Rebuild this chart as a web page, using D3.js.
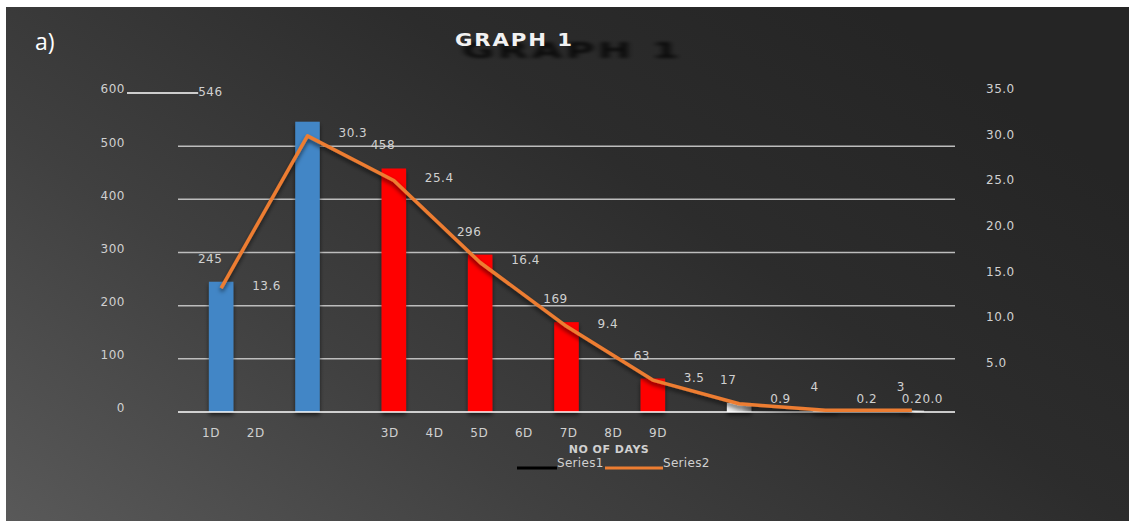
<!DOCTYPE html>
<html>
<head>
<meta charset="utf-8">
<script src="https://cdn.jsdelivr.net/npm/d3@7"></script>
<style>
  html, body { margin: 0; padding: 0; background: #fff; }
  svg { display: block; }
  text { font-family: "DejaVu Sans", Verdana, sans-serif; }
</style>
</head>
<body>
<svg id="chart" width="1129" height="521"></svg>
<script>
// ---- data ----
const categories = ["c1","c2","c3","c4","c5","c6","c7","c8","c9"];
const xLabels = ["1D","2D","3D","4D","5D","6D","7D","8D","9D"];
const xLabelSlots = ["1D","2D","gap1","gap2","3D","4D","5D","6D","7D","8D","9D"];
const barValues = [245, 546, 458, 296, 169, 63, 17, 4, 3];
const lineValues = [13.6, 30.3, 25.4, 16.4, 9.4, 3.5, 0.9, 0.2, 0.2];
const lineTailValues = [0.0];
const leftTicks = [0, 100, 200, 300, 400, 500, 600];
const rightTicks = [5, 10, 15, 20, 25, 30, 35];
const seriesNames = ["Series1", "Series2"];
const titleText = "GRAPH 1";
const panelLabel = "a)";
const xAxisTitle = "NO OF DAYS";

// ---- styles ----
const barColors = ["blue","blue","red","red","red","red","gray","gray","gray"];
const W = 1129, H = 521;
const plot = { left: 178, right: 955, top: 93, bottom: 412 };
const labelColor = "#d0d0d0";

const svg = d3.select("#chart");
const defs = svg.append("defs");

const bg = defs.append("linearGradient").attr("id","bg")
  .attr("x1","0").attr("y1","1").attr("x2","1").attr("y2","0.35");
bg.append("stop").attr("offset","0").attr("stop-color","#595959");
bg.append("stop").attr("offset","0.35").attr("stop-color","#404040");
bg.append("stop").attr("offset","0.7").attr("stop-color","#2c2c2c");
bg.append("stop").attr("offset","1").attr("stop-color","#252525");

const grayGrad = defs.append("linearGradient").attr("id","grayBar")
  .attr("x1","0").attr("y1","0").attr("x2","1").attr("y2","0");
grayGrad.append("stop").attr("offset","0").attr("stop-color","#f4f4f4");
grayGrad.append("stop").attr("offset","0.6").attr("stop-color","#d0d0d0");
grayGrad.append("stop").attr("offset","1").attr("stop-color","#8a8a8a");

const sh = defs.append("filter").attr("id","shadow")
  .attr("x","-30%").attr("y","-30%").attr("width","160%").attr("height","160%");
sh.append("feDropShadow").attr("dx",0).attr("dy",3).attr("stdDeviation",2)
  .attr("flood-color","#000").attr("flood-opacity",0.6);

// dark blurred silhouette for the title's perspective shadow
const tsh = defs.append("filter").attr("id","titleShadow")
  .attr("x","-20%").attr("y","-60%").attr("width","140%").attr("height","220%");
tsh.append("feGaussianBlur").attr("in","SourceAlpha").attr("stdDeviation",1.3).attr("result","b");
tsh.append("feComponentTransfer").attr("in","b")
  .append("feFuncA").attr("type","linear").attr("slope",0.75);

svg.append("rect").attr("x",0).attr("y",0).attr("width",W).attr("height",H).attr("fill","#fff");
svg.append("rect").attr("x",6).attr("y",7).attr("width",W-6).attr("height",H-7).attr("fill","url(#bg)");

// ---- scales ----
const x = d3.scaleBand().domain(categories).range([plot.left, plot.right]).padding(0);
const barW = x.bandwidth() * 0.284;
const cx = i => x(categories[i]) + x.bandwidth() / 2;
const yL = d3.scaleLinear().domain([0, 600]).range([plot.bottom, plot.top]);
const yR = d3.scaleLinear().domain([0, 35]).range([plot.bottom, plot.top]);
const xLab = d3.scalePoint().domain(xLabelSlots).range([211, 658]);

// ---- title ----
svg.append("text").text(panelLabel)
  .attr("x", 35).attr("y", 50)
  .attr("fill", "#ffffff")
  .style("font-family", "'Open Sans', sans-serif")
  .attr("font-size", 23);

// shadow (re-uses the title glyphs, stretched)
svg.append("use").attr("href", "#titleText")
  .attr("transform", "translate(462,58) scale(2.32,1.25)")
  .attr("filter", "url(#titleShadow)");

svg.append("g").attr("transform", "translate(455,46) scale(1.25,1)")
  .append("text").attr("id", "titleText").text(titleText)
  .attr("x", 0).attr("y", 0)
  .attr("font-size", 17).attr("font-weight", "bold")
  .attr("letter-spacing", 1.5)
  .attr("fill", "#f2f2f2");

// ---- gridlines ----
const gridTicks = leftTicks.filter(t => t > 0 && t < 600);
svg.append("g").selectAll("line").data(gridTicks).join("line")
  .attr("x1", plot.left).attr("x2", plot.right)
  .attr("y1", d => yL(d)).attr("y2", d => yL(d))
  .attr("stroke", "#bdbdbd").attr("stroke-width", 1.5);

// ---- left axis labels ----
const leftAxis = d3.axisLeft(yL).tickValues(leftTicks).tickSize(0).tickPadding(0);
const gL = svg.append("g").attr("transform", "translate(125,0)").call(leftAxis);
gL.select(".domain").remove();
gL.selectAll("text")
  .attr("fill", labelColor).attr("font-size", 12).attr("letter-spacing", 0.5)
  .attr("y", -4)
  .style("font-family", "'DejaVu Sans', sans-serif");

// ---- right axis labels ----
const rightAxis = d3.axisRight(yR).tickValues(rightTicks).tickSize(0).tickPadding(0)
  .tickFormat(d3.format(".1f"));
const gR = svg.append("g").attr("transform", "translate(986,0)").call(rightAxis);
gR.select(".domain").remove();
gR.selectAll("text")
  .attr("fill", labelColor).attr("font-size", 12).attr("letter-spacing", 0.5)
  .attr("y", -4)
  .style("font-family", "'DejaVu Sans', sans-serif");

// ---- bars ----
svg.append("g").attr("filter", "url(#shadow)")
  .selectAll("rect").data(barValues).join("rect")
  .attr("x", (d, i) => cx(i) - barW / 2)
  .attr("width", barW)
  .attr("y", d => yL(d))
  .attr("height", d => yL(0) - yL(d))
  .attr("fill", (d, i) => barColors[i] === "blue" ? "#4286c6" : barColors[i] === "red" ? "#ff0000" : "url(#grayBar)");

// ---- baseline ----
svg.append("line")
  .attr("x1", plot.left).attr("x2", plot.right)
  .attr("y1", yL(0)).attr("y2", yL(0))
  .attr("stroke", "#ffffff").attr("stroke-width", 1.5);

// ---- line ----
const line = d3.line().x((d, i) => cx(i)).y(d => yR(d));
svg.append("path").datum(lineValues)
  .attr("d", line)
  .attr("fill", "none")
  .attr("stroke", "#ed7d31").attr("stroke-width", 3.5)
  .attr("stroke-linejoin", "round")
  .attr("filter", "url(#shadow)");

// ---- bar data labels ----
const fmtBar = d3.format("d");
svg.append("g").selectAll("text").data(barValues).join("text")
  .text(d => fmtBar(d))
  .attr("x", (d, i) => (d > 500 ? cx(0) : cx(i)) - 11)
  .attr("y", d => d > 500 ? yL(600) - 1 : yL(d) - 23)
  .attr("text-anchor", d => d > 500 ? "start" : "middle")
  .attr("dx", d => d > 500 ? -12 : 0)
  .attr("dominant-baseline", "central")
  .attr("fill", labelColor).attr("font-size", 12).attr("letter-spacing", 0.5);

// leader line from 600 label to the displaced 546 label
svg.append("line")
  .attr("x1", 127).attr("x2", cx(0) - 23)
  .attr("y1", yL(600)).attr("y2", yL(600))
  .attr("stroke", "#ffffff").attr("stroke-width", 1.5);

// ---- line data labels ----
const fmtLine = d3.format(".1f");
svg.append("g").selectAll("text").data(lineValues).join("text")
  .text((d, i) => i === lineValues.length - 1 ? fmtLine(d) + lineTailValues.map(fmtLine).join("") : fmtLine(d))
  .attr("x", (d, i) => i === lineValues.length - 1 ? cx(i) - 10 : cx(i) + 31)
  .attr("y", d => Math.min(yR(d) - 2.5, 399))
  .attr("dominant-baseline", "central")
  .attr("fill", labelColor).attr("font-size", 12).attr("letter-spacing", 0.5);

// ---- x labels ----
svg.append("g").selectAll("text").data(xLabels).join("text")
  .text(d => d)
  .attr("x", d => xLab(d))
  .attr("y", 433)
  .attr("text-anchor", "middle")
  .attr("dominant-baseline", "central")
  .attr("fill", labelColor).attr("font-size", 12).attr("letter-spacing", 0.5);

svg.append("text").text(xAxisTitle)
  .attr("x", 609).attr("y", 449)
  .attr("text-anchor", "middle").attr("dominant-baseline", "central")
  .attr("font-weight", "bold").attr("font-size", 11).attr("letter-spacing", 0.5)
  .attr("fill", labelColor);

// ---- legend ----
const legendColors = ["#000000", "#ed7d31"];
const legendX = [517, 605];
const legendW = [40, 58];
const lg = svg.append("g");
seriesNames.forEach((name, i) => {
  lg.append("line")
    .attr("x1", legendX[i]).attr("x2", legendX[i] + legendW[i])
    .attr("y1", 468).attr("y2", 468)
    .attr("stroke", legendColors[i]).attr("stroke-width", 3);
  lg.append("text").text(name)
    .attr("x", legendX[i] + legendW[i]).attr("y", 463)
    .attr("dominant-baseline", "central")
    .attr("fill", labelColor).attr("font-size", 12).attr("letter-spacing", 0.3);
});
</script>
</body>
</html>
